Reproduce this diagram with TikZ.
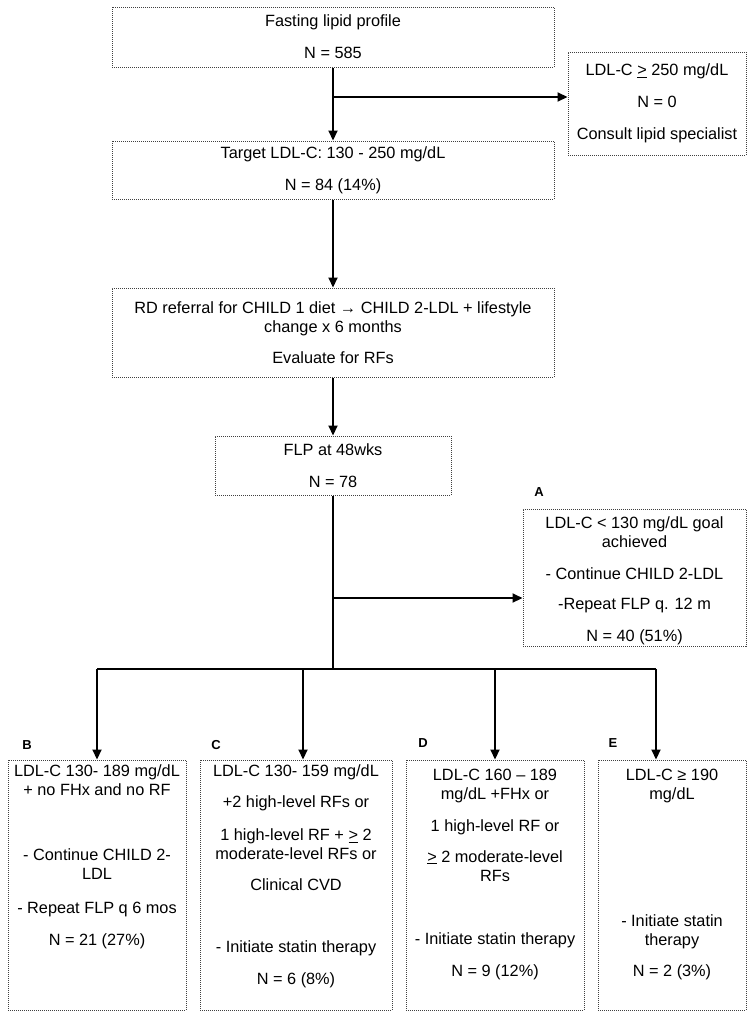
\documentclass[tikz,border=0pt]{standalone}
\usepackage{fontspec}
\setmainfont{Liberation Sans}
\usetikzlibrary{arrows.meta,positioning}

\tikzset{
  box/.style={draw=black!75, densely dotted, line width=1pt, inner sep=0pt, align=center,
    font=\fontsize{16.3}{19}\selectfont},
  txt/.style={inner sep=0pt, align=center, anchor=north, font=\fontsize{16.3}{19}\selectfont},
  lbl/.style={inner sep=0pt, font=\bfseries\fontsize{13}{15}\selectfont},
  arr/.style={->, line width=2.1pt},
  bar/.style={line width=2.1pt}
}

\begin{document}
\begin{tikzpicture}[x=1pt,y=-1pt,>={Triangle[length=10pt,width=9pt]}]
   \useasboundingbox (0,0) rectangle (750,1020);

   \node[box, minimum width=442pt, minimum height=60pt] (fast) at (333,37)
      {Fasting lipid profile\\[13pt]N = 585};
   \node[box, minimum width=178pt, minimum height=103pt] (high) at (657,103.5)
      {LDL-C \underline{>} 250 mg/dL\\[13pt]N = 0\\[13pt]Consult lipid specialist};
   \node[box, minimum width=442pt, minimum height=58pt] (target) at (333,170)
      {Target LDL-C: 130 - 250 mg/dL\\[13pt]N = 84 (14\%)};
   \node[box, minimum width=442pt, minimum height=89pt] (diet) at (333,332.5)
      {RD referral for CHILD 1 diet → CHILD 2-LDL + lifestyle\\change x 6 months\\[12pt]Evaluate for RFs};
   \node[box, minimum width=236pt, minimum height=59pt] (flp) at (333,465.5)
      {FLP at 48wks\\[13pt]N = 78};

   \node[lbl] (la) at (539,492) {A};
   \node[box, minimum width=223pt, minimum height=137pt] (ba) at (634.5,577.5) {};
   \node[txt] (ta) at (634.5,516)
      {LDL-C < 130 mg/dL goal\\achieved\\[13pt]- Continue CHILD 2-LDL\\[11pt]-Repeat FLP q. 12 m\\[13pt]N = 40 (51\%)};


   \node[box, minimum width=178pt, minimum height=250pt] (bb) at (97,885) {};
   \node[box, minimum width=192pt, minimum height=250pt] (bc) at (296,885) {};
   \node[box, minimum width=178pt, minimum height=250pt] (bd) at (495,885) {};
   \node[box, minimum width=148pt, minimum height=250pt] (be) at (672,885) {};

   \node[lbl] (lb) at (27,745) {B};
   \node[lbl] (lc) at (216,745) {C};
   \node[lbl] (ld) at (423,743) {D};
   \node[lbl] (le) at (613,743) {E};

   \node[txt] (tb) at (97,764.5)
      {LDL-C 130- 189 mg/dL\\+ no FHx and no RF\\[46pt]- Continue CHILD 2-\\LDL\\[15pt]- Repeat FLP q 6 mos\\[13pt]N = 21 (27\%)};
   \node[txt] (tc) at (296,764.5)
      {LDL-C 130- 159 mg/dL\\[12pt]+2 high-level RFs or\\[14pt]1 high-level RF + \underline{>} 2\\moderate-level RFs or\\[12pt]Clinical CVD\\[43pt]- Initiate statin therapy\\[13pt]N = 6 (8\%)};
   \node[txt] (td) at (495,768.5)
      {LDL-C 160 – 189\\mg/dL +FHx or\\[13pt]1 high-level RF or\\[12pt]\underline{>} 2 moderate-level\\RFs\\[44pt]- Initiate statin therapy\\[13pt]N = 9 (12\%)};
   \node[txt] (te) at (672,768.5)
      {LDL-C ≥ 190\\mg/dL\\[108pt]- Initiate statin\\therapy\\[12pt]N = 2 (3\%)};


   \coordinate (j1) at (333,97);
   \coordinate (j2) at (333,598);
   \coordinate (kb) at (97,669);
   \coordinate (kc) at (303,669);
   \coordinate (kd) at (495,669);
   \coordinate (ke) at (656,669);

   \draw[arr] (fast.south -| j1) -- (target.north -| j1);
   \draw[arr] (j1) -- (j1 -| high.west);
   \draw[arr] (target.south -| j1) -- (diet.north -| j1);
   \draw[arr] (diet.south -| j1) -- (flp.north -| j1);
   \draw[bar] (flp.south -| j1) -- (j1 |- kb);
   \draw[arr] (j2) -- (j2 -| ba.west);
   \draw[bar] (kb) -- (ke);
   \draw[arr] (kb) -- (kb |- bb.north);
   \draw[arr] (kc) -- (kc |- bc.north);
   \draw[arr] (kd) -- (kd |- bd.north);
   \draw[arr] (ke) -- (ke |- be.north);

\end{tikzpicture}
\end{document}
